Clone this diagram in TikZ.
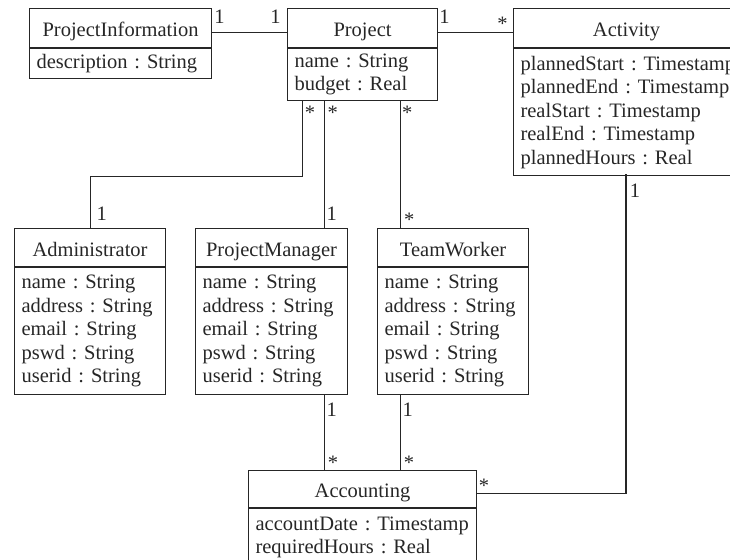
\documentclass[tikz,border=0pt]{standalone}
\usepackage{fontspec}
\setmainfont{Liberation Serif}
\frenchspacing
\hyphenpenalty=10000
\exhyphenpenalty=10000
\begin{document}
\begin{tikzpicture}[x=1pt,y=-1pt,
  every node/.style={font=\fontsize{20.5}{23.5}\selectfont, text=black!85},
  head/.style={draw=black!85, line width=1.1pt, inner sep=0pt, anchor=north west,
    text height=17.4pt, text depth=0pt},
  body/.style={draw=black!85, line width=1.1pt, inner xsep=7pt, inner ysep=0pt,
    anchor=north west, align=left},
  link/.style={draw=black!85, line width=1.1pt},
  mult/.style={inner sep=0pt, anchor=base}]
\useasboundingbox (0,0) rectangle (730,559);
\clip (0,0) rectangle (730,559);

% classes: header compartment, then attribute compartment
\node[head, minimum width=182pt, minimum height=39pt] (pi) at (29,8) {ProjectInformation};
\node[body, minimum width=182pt, text width=168pt, minimum height=30pt] (pib) at (pi.south west)
  {description : String};

\node[head, minimum width=150pt, minimum height=39pt] (prj) at (287,8) {Project};
\node[body, minimum width=150pt, text width=136pt, minimum height=52pt] (prjb) at (prj.south west)
  {name : String\\budget : Real};

\node[head, minimum width=226pt, minimum height=39pt] (act) at (513,8) {Activity};
\node[body, minimum width=250pt, text width=236pt, minimum height=127pt] (actb) at (act.south west)
  {plannedStart : Timestamp\\plannedEnd : Timestamp\\realStart : Timestamp\\realEnd : Timestamp\\plannedHours : Real};

\node[head, minimum width=151pt, minimum height=38pt] (adm) at (14,228) {Administrator};
\node[body, minimum width=151pt, text width=137pt, minimum height=127pt] (admb) at (adm.south west)
  {name : String\\address : String\\email : String\\pswd : String\\userid : String};

\node[head, minimum width=152pt, minimum height=38pt] (pm) at (195,228) {ProjectManager};
\node[body, minimum width=152pt, text width=138pt, minimum height=127pt] (pmb) at (pm.south west)
  {name : String\\address : String\\email : String\\pswd : String\\userid : String};

\node[head, minimum width=151pt, minimum height=38pt] (tw) at (377,228) {TeamWorker};
\node[body, minimum width=151pt, text width=137pt, minimum height=127pt] (twb) at (tw.south west)
  {name : String\\address : String\\email : String\\pswd : String\\userid : String};

\node[head, minimum width=228pt, minimum height=37pt] (acc) at (248,470) {Accounting};
\node[body, minimum width=228pt, text width=214pt, minimum height=57pt] (accb) at (acc.south west)
  {accountDate : Timestamp\\requiredHours : Real};

% associations
\draw[link] ([yshift=-4.2pt]pi.east) -- ([yshift=-4.2pt]prj.west);
\draw[link] ([yshift=-4.2pt]prj.east) -- ([yshift=-4.2pt]act.west);
\draw[link] ([xshift=-60.3pt]prjb.south) -- ++(0,75) -| (adm.north);
\coordinate (cpm) at ([xshift=-38.5pt]prjb.south);
\coordinate (ctw) at ([xshift=37.8pt]prjb.south);
\draw[link] (cpm) -- (cpm |- pm.north);
\draw[link] (ctw) -- (ctw |- tw.north);
\coordinate (apm) at ([xshift=-38.2pt]acc.north);
\coordinate (atw) at ([xshift=37.6pt]acc.north);
\draw[link] (apm |- pmb.south) -- (apm);
\draw[link] (atw |- twb.south) -- (atw);
\coordinate (cact) at (626,174);
\draw[link] (cact) |- ([yshift=-4.2pt]acc.east);

% multiplicities
\node[mult] (m1) at (219.5,24) {1};
\node[mult] (m2) at (275.5,24) {1};
\node[mult] (m3) at (444.5,24) {1};
\node[mult] (m4) at (502.5,30.5) {*};
\node[mult] (m5) at (310,119.5) {*};
\node[mult] (m6) at (332.7,119.5) {*};
\node[mult] (m7) at (407.3,119.5) {*};
\node[mult] (m8) at (101.7,220) {1};
\node[mult] (m9) at (331.7,220) {1};
\node[mult] (m10) at (409.3,226.5) {*};
\node[mult] (m11) at (635,197) {1};
\node[mult] (m12) at (331.7,416) {1};
\node[mult] (m13) at (407.7,416) {1};
\node[mult] (m14) at (333,469.5) {*};
\node[mult] (m15) at (409,469.5) {*};
\node[mult] (m16) at (484,492) {*};
\end{tikzpicture}
\end{document}
